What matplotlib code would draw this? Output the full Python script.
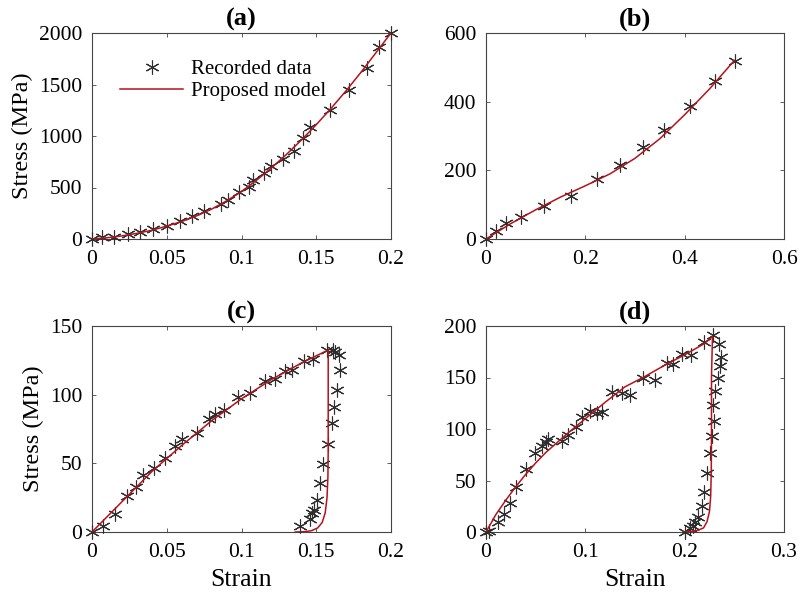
import matplotlib.pyplot as plt
import numpy as np

plt.rcParams['font.family'] = ['Liberation Serif', 'DejaVu Serif']
plt.rcParams['mathtext.fontset'] = 'stix'

# (a) recorded points and model curve
a_strain = [0, 0.0067, 0.015, 0.024, 0.032, 0.041, 0.050, 0.059, 0.067, 0.075, 0.086,
            0.091, 0.098, 0.105, 0.108, 0.115, 0.120, 0.128, 0.135, 0.141, 0.146,
            0.159, 0.172, 0.184, 0.192, 0.200]
a_stress = [0, 19, 19, 48, 68, 97, 129, 175, 220, 268, 343, 382, 453, 502, 576, 641,
            712, 777, 851, 981, 1084, 1256, 1450, 1660, 1861, 2000]
a_model_x = [0, 0.01, 0.02, 0.03, 0.04, 0.05, 0.06, 0.07, 0.08, 0.09, 0.10, 0.11,
             0.12, 0.13, 0.14, 0.15, 0.16, 0.17, 0.18, 0.19, 0.20]
a_model_y = [0, 12, 30, 55, 85, 125, 170, 225, 290, 370, 460, 570, 690, 820, 960,
             1110, 1270, 1440, 1620, 1810, 2000]

# (b)
b_strain = [0, 0.020, 0.041, 0.070, 0.117, 0.171, 0.224, 0.270, 0.317, 0.358, 0.411,
            0.461, 0.501]
b_stress = [0, 24, 47, 63, 97, 124, 175, 216, 267, 318, 386, 459, 519]
b_model_x = [0, 0.05, 0.10, 0.15, 0.20, 0.25, 0.30, 0.35, 0.40, 0.45, 0.50]
b_model_y = [0, 45, 85, 122, 155, 190, 235, 292, 362, 437, 520]

# (c) loading + unloading
c_strain = [0, 0.0074, 0.0152, 0.0237, 0.0297, 0.0342, 0.0413, 0.0487, 0.0554, 0.0599,
            0.0699, 0.0782, 0.0822, 0.0883, 0.0979, 0.106, 0.1158, 0.1225, 0.129, 0.134,
            0.142, 0.148, 0.157, 0.161, 0.1627, 0.165, 0.166, 0.1638, 0.1616, 0.1604,
            0.1578, 0.1544, 0.1526, 0.1504, 0.1486, 0.147, 0.1455, 0.1388]
c_stress = [0, 4.6, 13.3, 25.9, 33.1, 41.4, 46.9, 54.2, 62.9, 67.7, 71.9, 82.0, 85.6,
            88.8, 98.5, 100.9, 110.1, 111.1, 117.3, 117.8, 124.6, 126.3, 132.8, 132.8,
            131.1, 128.7, 117.8, 103.3, 90.7, 79.6, 64.1, 49.6, 35.6, 23.5, 15.7, 13.8,
            9.4, 4.1]
c_model_x = [0, 0.02, 0.04, 0.06, 0.08, 0.10, 0.12, 0.14, 0.158, 0.158, 0.158, 0.1578,
             0.1572, 0.156, 0.154, 0.151, 0.147, 0.142, 0.136]
c_model_y = [0, 22, 44, 63, 81, 97, 111, 123, 132.5, 100, 60, 40, 25, 14, 7, 3, 1,
             0.2, 0]

# (d) loading + unloading
d_strain = [0, 0.0027, 0.0117, 0.0184, 0.0238, 0.0305, 0.0405, 0.0489, 0.0562, 0.0603,
            0.0626, 0.077, 0.083, 0.0904, 0.0964, 0.1048, 0.1115, 0.1165, 0.1265,
            0.1366, 0.145, 0.158, 0.170, 0.182, 0.188, 0.197, 0.206, 0.219, 0.229,
            0.2347, 0.237, 0.2353, 0.2337, 0.2303, 0.2287, 0.2293, 0.228, 0.2253,
            0.2226, 0.2193, 0.217, 0.213, 0.210, 0.208, 0.205, 0.2002]
d_stress = [0, 0.6, 9.7, 17.7, 28.1, 43.5, 61.3, 76.5, 83.5, 87.4, 90.6, 88.7, 94.2,
            102.3, 111.9, 117.7, 115.2, 116.1, 136.1, 134.5, 132.9, 150, 147.4, 164.2,
            162.9, 173.2, 171.6, 184.5, 191, 182.9, 170, 161, 150, 137, 123, 108, 93,
            76.5, 57, 39, 25, 15, 10, 5.5, 4, 0]
d_model_x = [0, 0.01, 0.02, 0.03, 0.04, 0.05, 0.06, 0.08, 0.10, 0.12, 0.14, 0.16,
             0.18, 0.20, 0.22, 0.228, 0.227, 0.227, 0.2268, 0.2262, 0.225, 0.2225,
             0.219, 0.213, 0.205, 0.20]
d_model_y = [0, 17, 31, 44, 56, 67, 77, 94, 110, 126, 141, 151, 162, 172, 183, 190,
             150, 100, 60, 35, 20, 10, 4, 1.5, 0.5, 0]

panels = [
    ('(a)', a_strain, a_stress, a_model_x, a_model_y, (0, 0.2), [0, 0.05, 0.1, 0.15, 0.2],
     (0, 2000), [0, 500, 1000, 1500, 2000]),
    ('(b)', b_strain, b_stress, b_model_x, b_model_y, (0, 0.6), [0, 0.2, 0.4, 0.6],
     (0, 600), [0, 200, 400, 600]),
    ('(c)', c_strain, c_stress, c_model_x, c_model_y, (0, 0.2), [0, 0.05, 0.1, 0.15, 0.2],
     (0, 150), [0, 50, 100, 150]),
    ('(d)', d_strain, d_stress, d_model_x, d_model_y, (0, 0.3), [0, 0.1, 0.2, 0.3],
     (0, 200), [0, 50, 100, 150, 200]),
]

# axes boxes in figure pixels: left, right, top, bottom
W, H = 800, 593
boxes = [(92, 391, 33, 239), (486, 784, 33, 239), (92, 391, 326, 532), (486, 784, 326, 532)]

fig = plt.figure(figsize=(W / 100, H / 100), dpi=100)
star = (6, 2, 0)

for i, (title, xs, ys, mx, my, xlim, xt, ylim, yt) in enumerate(panels):
    l, r, t, b = boxes[i]
    ax = fig.add_axes([l / W, 1 - b / H, (r - l) / W, (b - t) / H])
    ax.plot(xs, ys, linestyle='none', marker=star, markersize=10, markeredgewidth=0.8,
            color='#2e2e2e', label='Recorded data', clip_on=False, zorder=3)
    ax.plot(mx, my, color='#b5121b', linewidth=1.1, label='Proposed model', zorder=4)
    ax.set_xlim(*xlim)
    ax.set_ylim(*ylim)
    ax.set_xticks(xt)
    ax.set_xticklabels(['%g' % v for v in xt])
    ax.set_yticks(yt)
    ax.tick_params(direction='in', top=True, right=True, labelsize=15.5, length=3,
                   width=0.6, color='#444444')
    ax.tick_params(axis='x', pad=8)
    ax.tick_params(axis='y', pad=7)
    for s in ax.spines.values():
        s.set_linewidth(0.8)
        s.set_color('#444444')
    ax.set_title(title, fontsize=19, fontweight='bold', pad=5)
    if i % 2 == 0:
        ax.set_ylabel('Stress (MPa)', fontsize=17.5, labelpad=4)
    if i >= 2:
        ax.set_xlabel('Strain', fontsize=18.5, labelpad=5)
    if i == 0:
        ax.legend(loc='upper left', bbox_to_anchor=(0.06, 0.92), frameon=False,
                  fontsize=15, handlelength=3.0, handletextpad=0.4, labelspacing=0.1,
                  borderpad=0)

fig.savefig('out.png', dpi=100)
